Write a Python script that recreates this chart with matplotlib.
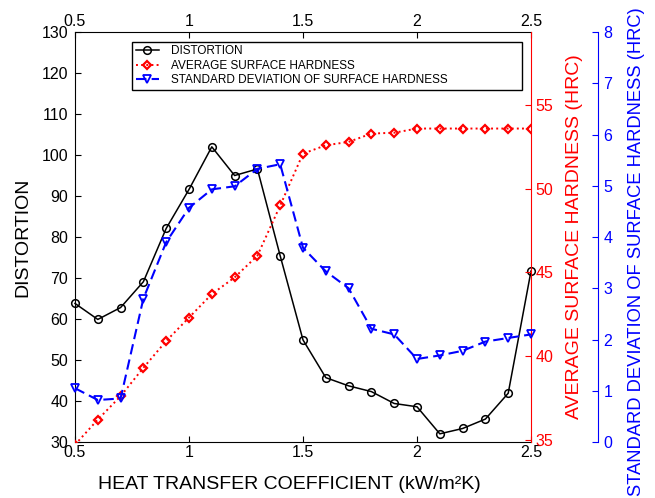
import matplotlib
matplotlib.use("Agg")
import matplotlib.pyplot as plt
from matplotlib.ticker import FormatStrFormatter

plt.rcParams['font.family'] = ['Liberation Sans', 'DejaVu Sans']

# heat transfer coefficient (kW/m2K)
htc = [0.5, 0.6, 0.7, 0.8, 0.9, 1.0, 1.1, 1.2, 1.3, 1.4, 1.5,
       1.6, 1.7, 1.8, 1.9, 2.0, 2.1, 2.2, 2.3, 2.4, 2.5]
distortion = [63.8, 59.9, 62.8, 69.1, 82.1, 91.6, 102.0, 95.0, 96.6, 75.4, 54.9,
              45.7, 43.7, 42.3, 39.4, 38.6, 32.0, 33.3, 35.6, 41.9, 71.7]
avg_hardness = [34.7, 36.2, 37.6, 39.3, 40.9, 42.3, 43.7, 44.7, 46.0, 49.0, 52.1,
                52.6, 52.8, 53.3, 53.35, 53.6, 53.6, 53.6, 53.6, 53.6, 53.6]
std_hardness = [1.05, 0.82, 0.85, 2.8, 3.9, 4.57, 4.93, 4.99, 5.33, 5.42, 3.79,
                3.33, 3.0, 2.21, 2.10, 1.62, 1.69, 1.78, 1.96, 2.03, 2.10]

x_ticks = [0.5, 1.0, 1.5, 2.0, 2.5]

fig = plt.figure(figsize=(6.55, 4.98), dpi=100)
ax1 = fig.add_axes([0.1145, 0.1124, 0.6962, 0.8233])
ax2 = ax1.twinx()
ax3 = ax1.twinx()

#Distortion (left axis)
l1, = ax1.plot(htc, distortion, '-', color='black', lw=1.1, marker='o',
               ms=5.5, mfc='none', mew=1.1, clip_on=False, zorder=3,
               label='DISTORTION')
ax1.set_xlim(0.5, 2.5)
ax1.set_ylim(30, 130)
ax1.set_xticks(x_ticks)
ax1.xaxis.set_major_formatter(FormatStrFormatter('%g'))
ax1.set_yticks(range(30, 131, 10))
ax1.tick_params(axis='both', direction='in', labelsize=11.5, length=4)
ax1.tick_params(axis='x', top=True, labeltop=True, pad=2)
ax1.tick_params(axis='y', right=False, pad=5)
ax1.spines['right'].set_visible(False)
ax1.set_xlabel('HEAT TRANSFER COEFFICIENT (kW/m²K)', fontsize=14, labelpad=12, x=0.47)
ax1.set_ylabel('DISTORTION', fontsize=14, labelpad=7)

#Average surface hardness (first right axis)
l2, = ax2.plot(htc, avg_hardness, ':', color='red', lw=1.4, marker='D',
               ms=4.5, mfc='none', mew=1.6, label='AVERAGE SURFACE HARDNESS')
ax2.set_ylim(34.86, 59.37)
ax2.set_yticks([35, 40, 45, 50, 55])
ax2.tick_params(axis='y', direction='in', colors='red', labelsize=11.5, length=4, pad=3)
for s in ['left', 'top', 'bottom']:
    ax2.spines[s].set_visible(False)
ax2.spines['right'].set_color('red')
ax2.set_ylabel('AVERAGE SURFACE HARDNESS (HRC)', color='red', fontsize=14, labelpad=9)

#Standard deviation of surface hardness (second right axis)
l3, = ax3.plot(htc, std_hardness, '--', color='blue', lw=1.5, marker='v',
               ms=6, mfc='none', mew=1.3, dashes=(5, 2.5), clip_on=False,
               label='STANDARD DEVIATION OF SURFACE HARDNESS')
ax3.set_ylim(0, 8)
ax3.set_yticks(range(0, 9))
ax3.spines['right'].set_position(('axes', 1.147))
for s in ['left', 'top', 'bottom']:
    ax3.spines[s].set_visible(False)
ax3.spines['right'].set_color('blue')
ax3.tick_params(axis='y', direction='in', colors='blue', labelsize=11.5, length=4, pad=4)
ax3.set_ylabel('STANDARD DEVIATION OF SURFACE HARDNESS (HRC)', color='blue',
               fontsize=13.2, labelpad=11, y=0.465)

leg = ax3.legend(handles=[l1, l2, l3], loc='upper left',
                 bbox_to_anchor=(0.125, 0.878, 0.855, 0.098), mode='expand',
                 fontsize=8.5, frameon=True, fancybox=False, framealpha=1,
                 edgecolor='black', labelspacing=0.2, handlelength=2.0,
                 handletextpad=1.0, borderpad=0.3, borderaxespad=0)
leg.get_frame().set_linewidth(1.0)

plt.savefig('out.png', dpi=100)
